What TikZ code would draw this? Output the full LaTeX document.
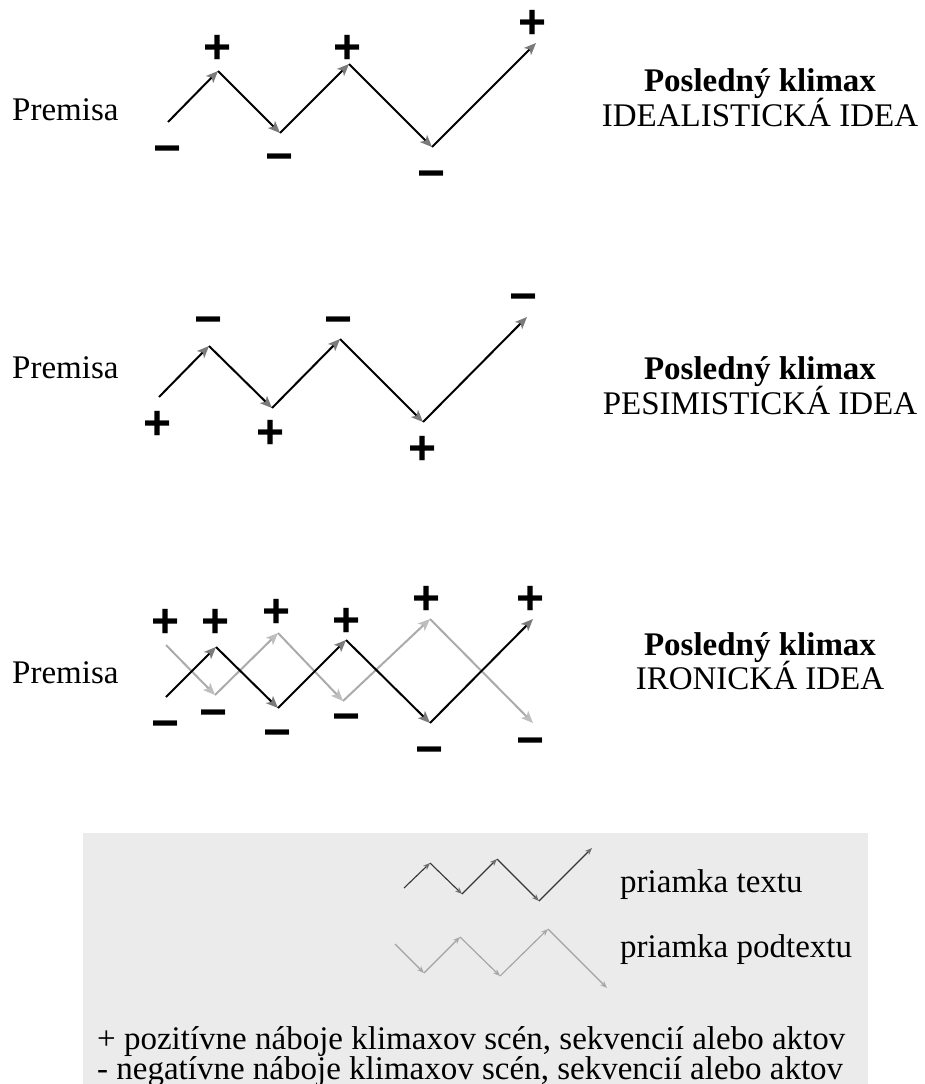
\documentclass[tikz,border=0pt]{standalone}
\usepackage{fontspec}
\setmainfont{Liberation Serif}
\newfontfamily\signfont{Liberation Sans}
\usetikzlibrary{arrows.meta}

\definecolor{headdark}{HTML}{7A7A7A}
\definecolor{linelight}{HTML}{ABABAB}
\definecolor{headlight}{HTML}{BEBEBE}
\definecolor{legendbg}{HTML}{EBEBEB}
\definecolor{legdark}{HTML}{353535}
\definecolor{legdarkhead}{HTML}{6E6E6E}
\definecolor{leglight}{HTML}{A2A2A2}
\definecolor{leglighthead}{HTML}{A8A8A8}

\begin{document}
\begin{tikzpicture}[x=1pt,y=-1pt,
  txt/.style={font=\fontsize{33}{33}\selectfont, inner sep=0, anchor=base west},
  ttl/.style={font=\bfseries\fontsize{33}{33}\selectfont, inner sep=0, anchor=base},
  idea/.style={font=\fontsize{33}{33}\selectfont, inner sep=0, anchor=base},
  sign/.style={font=\signfont\bfseries\fontsize{48}{48}\selectfont, inner sep=0, anchor=base, yshift=-16.8pt},
  mainline/.style={draw=black, line width=2pt, -{Stealth[length=12pt,width=10pt,inset=3pt,color=headdark]}},
  subline/.style={draw=linelight, line width=2pt, -{Stealth[length=12pt,width=10pt,inset=3pt,color=headlight]}},
  legmain/.style={draw=legdark, line width=1.1pt, -{Stealth[length=7pt,width=5.5pt,inset=2pt,color=legdarkhead]}},
  legsub/.style={draw=leglight, line width=1.1pt, -{Stealth[length=7pt,width=5.5pt,inset=2pt,color=leglighthead]}}
]
\useasboundingbox (0,0) rectangle (924,1084);

% ---------- idealistic idea ----------
\node[txt] (premA) at (12,120) {Premisa};
\coordinate (a0) at (168,122);
\coordinate (a1) at (218,71);
\coordinate (a2) at (280,133);
\coordinate (a3) at (349,64);
\coordinate (a4) at (432,147);
\coordinate (a5) at (536,43);
\draw[mainline] (a0) -- (a1);
\draw[mainline] (a1) -- (a2);
\draw[mainline] (a2) -- (a3);
\draw[mainline] (a3) -- (a4);
\draw[mainline] (a4) -- (a5);
\node[sign] (sa0) at (168,148) {−};
\node[sign] (sa1) at (218,47) {+};
\node[sign] (sa2) at (280,156) {−};
\node[sign] (sa3) at (348,47) {+};
\node[sign] (sa4) at (432,173) {−};
\node[sign] (sa5) at (533,22) {+};
\node[ttl] (tA) at (760,91) {Posledný klimax};
\node[idea] (iA) at (760,126) {IDEALISTICKÁ IDEA};

% ---------- pessimistic idea ----------
\node[txt] (premB) at (12,378) {Premisa};
\coordinate (b0) at (159,397);
\coordinate (b1) at (209,346);
\coordinate (b2) at (272,408);
\coordinate (b3) at (340,339);
\coordinate (b4) at (423,422);
\coordinate (b5) at (527,317);
\draw[mainline] (b0) -- (b1);
\draw[mainline] (b1) -- (b2);
\draw[mainline] (b2) -- (b3);
\draw[mainline] (b3) -- (b4);
\draw[mainline] (b4) -- (b5);
\node[sign] (sb0) at (158,423) {+};
\node[sign] (sb1) at (209,319) {−};
\node[sign] (sb2) at (271,432) {+};
\node[sign] (sb3) at (339,319) {−};
\node[sign] (sb4) at (423,448) {+};
\node[sign] (sb5) at (524,296) {−};
\node[ttl] (tB) at (760,379) {Posledný klimax};
\node[idea] (iB) at (760,414) {PESIMISTICKÁ IDEA};

% ---------- ironic idea ----------
\node[txt] (premC) at (12,683) {Premisa};
% subtext line
\coordinate (d0) at (166,645);
\coordinate (d1) at (215,695);
\coordinate (d2) at (278,633);
\coordinate (d3) at (343,701);
\coordinate (d4) at (430,619);
\coordinate (d5) at (533,723);
\draw[subline] (d0) -- (d1);
\draw[subline] (d1) -- (d2);
\draw[subline] (d2) -- (d3);
\draw[subline] (d3) -- (d4);
\draw[subline] (d4) -- (d5);
% text line
\coordinate (c0) at (166,697);
\coordinate (c1) at (216,647);
\coordinate (c2) at (278,708);
\coordinate (c3) at (346,640);
\coordinate (c4) at (430,723);
\coordinate (c5) at (533,619);
\draw[mainline] (c0) -- (c1);
\draw[mainline] (c1) -- (c2);
\draw[mainline] (c2) -- (c3);
\draw[mainline] (c3) -- (c4);
\draw[mainline] (c4) -- (c5);
\node[sign] (sc0) at (166,621) {+};
\node[sign] (sc1) at (216,621) {+};
\node[sign] (sc2) at (277,611) {+};
\node[sign] (sc3) at (347,620) {+};
\node[sign] (sc4) at (427,598) {+};
\node[sign] (sc5) at (531,598) {+};
\node[sign] (mc0) at (166,723) {−};
\node[sign] (mc1) at (214,712) {−};
\node[sign] (mc2) at (278,732) {−};
\node[sign] (mc3) at (347,716) {−};
\node[sign] (mc4) at (430,749) {−};
\node[sign] (mc5) at (531,740) {−};
\node[ttl] (tC) at (760,655) {Posledný klimax};
\node[idea] (iC) at (760,689) {IRONICKÁ IDEA};

% ---------- legend ----------
\fill[legendbg] (83,833) rectangle (868,1084);
\coordinate (l0) at (404,888);
\coordinate (l1) at (430,863);
\coordinate (l2) at (462,894);
\coordinate (l3) at (497,859);
\coordinate (l4) at (539,901);
\coordinate (l5) at (592,848);
\draw[legmain] (l0) -- (l1);
\draw[legmain] (l1) -- (l2);
\draw[legmain] (l2) -- (l3);
\draw[legmain] (l3) -- (l4);
\draw[legmain] (l4) -- (l5);
\coordinate (m0) at (395,944);
\coordinate (m1) at (424,973);
\coordinate (m2) at (460,937);
\coordinate (m3) at (500,976);
\coordinate (m4) at (548,929);
\coordinate (m5) at (607,988);
\draw[legsub] (m0) -- (m1);
\draw[legsub] (m1) -- (m2);
\draw[legsub] (m2) -- (m3);
\draw[legsub] (m3) -- (m4);
\draw[legsub] (m4) -- (m5);
\node[txt] (lt) at (620,892) {priamka textu};
\node[txt] (ls) at (620,957) {priamka podtextu};
\node[txt] (lp) at (97,1049) {+ pozitívne náboje klimaxov scén, sekvencií alebo aktov};
\node[txt] (ln) at (97,1079) {- negatívne náboje klimaxov scén, sekvencií alebo aktov};
\end{tikzpicture}
\end{document}
